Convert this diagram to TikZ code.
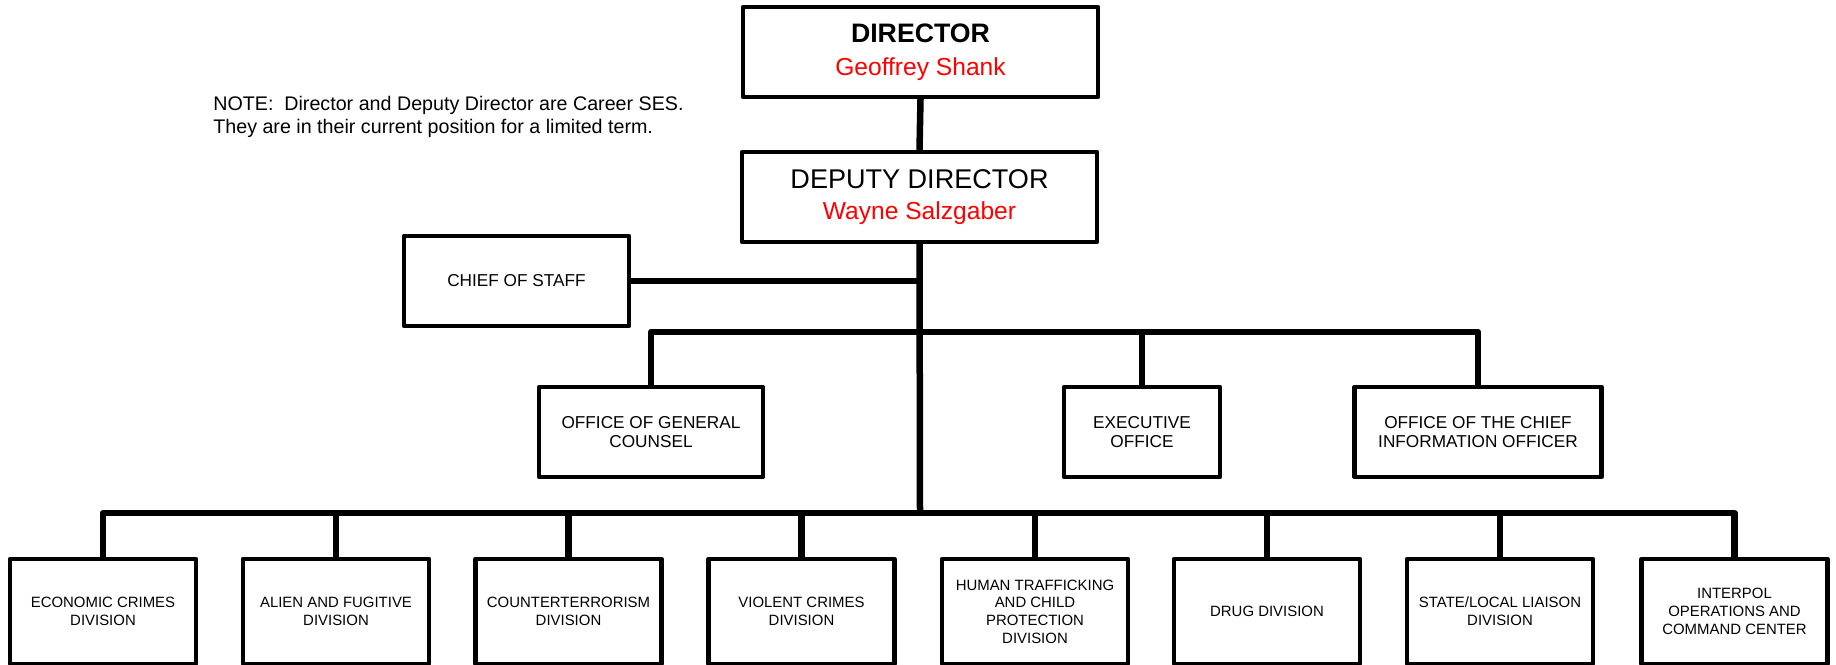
\documentclass[tikz,border=0pt]{standalone}
\usepackage{fontspec}
\setmainfont{Liberation Sans}
\begin{document}
\begin{tikzpicture}[x=0.02cm,y=-0.02cm,
    box/.style={draw,line width=2.5pt,line join=round,align=center,inner sep=0pt},
    topbox/.style={box,minimum width=7.1cm,minimum height=1.8cm},
    midbox/.style={box,minimum height=1.8cm,font={\fontsize{9.8pt}{10.8pt}\selectfont}},
    divbox/.style={box,minimum width=3.72cm,minimum height=2.1cm,font={\fontsize{8.5pt}{10.1pt}\selectfont}},
    link/.style={line width=3.7pt,line join=round}]
  \useasboundingbox (0,0) rectangle (1836,665);
  % top of the chart
  \node[topbox,font={\fontsize{14pt}{18.8pt}\selectfont}] (dir) at (920.5,52) {{\fontsize{15.2pt}{18.8pt}\selectfont\bfseries DIRECTOR}\\
    \textcolor{red}{Geoffrey Shank}};
  \node[topbox,font={\fontsize{14pt}{17.8pt}\selectfont}] (dep) at (919.5,197) {{\fontsize{15.4pt}{17.8pt}\selectfont DEPUTY DIRECTOR}\\
    \textcolor{red}{Wayne Salzgaber}};
  \node[anchor=west,align=left,inner sep=0pt,font={\fontsize{11.2pt}{12.9pt}\selectfont}] (note) at (213,117)
    {NOTE:\ \ Director and Deputy Director are Career SES.\\They are in their current position for a limited term.};
  % staff offices
  \node[midbox,minimum width=4.5cm] (cos) at (516.5,281) {CHIEF OF STAFF};
  \node[midbox,minimum width=4.48cm] (ogc) at (651,432) {OFFICE OF GENERAL\\COUNSEL};
  \node[midbox,minimum width=3.12cm] (exo) at (1142,432) {EXECUTIVE\\OFFICE};
  \node[midbox,minimum width=4.94cm] (cio) at (1478,432) {OFFICE OF THE CHIEF\\INFORMATION OFFICER};
  % divisions
  \node[divbox] (econ) at (103,611.5) {ECONOMIC CRIMES\\DIVISION};
  \node[divbox] (alien) at (336,611.5) {ALIEN AND FUGITIVE\\DIVISION};
  \node[divbox] (cterr) at (568.5,611.5) {COUNTERTERRORISM\\DIVISION};
  \node[divbox] (viol) at (801.5,611.5) {VIOLENT CRIMES\\DIVISION};
  \node[divbox] (human) at (1035,611.5) {HUMAN TRAFFICKING\\AND CHILD\\PROTECTION\\DIVISION};
  \node[divbox] (drug) at (1267,611.5) {DRUG DIVISION};
  \node[divbox] (liais) at (1500,611.5) {STATE/LOCAL LIAISON\\DIVISION};
  \node[divbox] (ipol) at (1734.5,611.5) {INTERPOL\\OPERATIONS AND\\COMMAND CENTER};
  \coordinate (upbar) at (920,332);
  \coordinate (lowbar) at (920,513);
  % connectors
  \draw[link] (dir.south) -- (dep.north);
  \draw[link] (dep.south) -- (lowbar);
  \draw[link] (cos.east) -- (cos.east -| dep.south);
  \draw[link] (ogc.north) -- (ogc.north |- upbar) -- (cio.north |- upbar) -- (cio.north);
  \draw[link] (exo.north) -- (exo.north |- upbar);
  \draw[link] (econ.north) -- (econ.north |- lowbar) -- (ipol.north |- lowbar) -- (ipol.north);
  \draw[link] (alien.north) -- (alien.north |- lowbar);
  \draw[link] (cterr.north) -- (cterr.north |- lowbar);
  \draw[link] (viol.north) -- (viol.north |- lowbar);
  \draw[link] (human.north) -- (human.north |- lowbar);
  \draw[link] (drug.north) -- (drug.north |- lowbar);
  \draw[link] (liais.north) -- (liais.north |- lowbar);
\end{tikzpicture}
\end{document}
